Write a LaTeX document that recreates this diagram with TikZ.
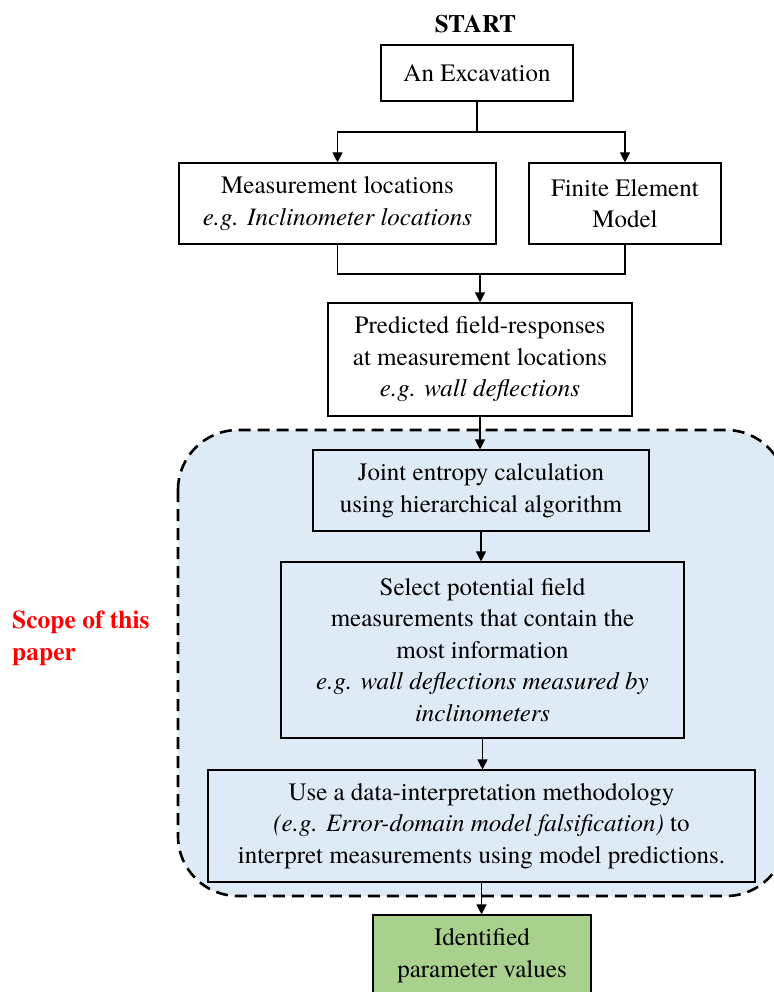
\documentclass[tikz,border=0pt]{standalone}
\usepackage{fontspec}
\setmainfont{texgyretermes}[Extension=.otf, UprightFont=*-regular, BoldFont=*-bold, ItalicFont=*-italic, BoldItalicFont=*-bolditalic]
\usetikzlibrary{arrows.meta}
\definecolor{scopeblue}{RGB}{222,235,247}
\definecolor{resgreen}{RGB}{169,209,142}
\definecolor{scopered}{RGB}{255,0,0}
\begin{document}
\begin{tikzpicture}[x=1pt,y=-1pt,
  box/.style={draw=black, line width=1.1pt, align=center, inner sep=0pt,
              font=\fontsize{25}{31.5}\selectfont},
  inbox/.style={box, fill=scopeblue},
  arr/.style={line width=1.1pt, -{Triangle[width=10pt,length=10pt]}},
  ln/.style={line width=1.1pt},
  scopeframe/.style={line width=2.6pt, dash pattern=on 12pt off 7pt,
              fill=scopeblue, rounded corners=60pt}]
\useasboundingbox (0,0) rectangle (773,992);

% scope region
\draw[scopeframe] (178,430) rectangle (786,896);

% title
\node[font=\fontsize{25}{31.5}\selectfont\bfseries, inner sep=0pt] (start) at (475.5,24) {START};

% boxes
\node[box, minimum width=192pt, minimum height=56pt] (exc) at (477,73) {An Excavation};
\node[box, minimum width=317pt, minimum height=81pt] (meas) at (337.5,203.5)
  {Measurement locations\\\textit{e.g. Inclinometer locations}};
\node[box, minimum width=192pt, minimum height=81pt] (fem) at (625,203.5)
  {Finite Element\\Model};
\node[box, minimum width=304pt, minimum height=113pt] (pred) at (480,359.5)
  {Predicted field-responses\\at measurement locations\\\textit{e.g. wall deflections}};
\node[inbox, minimum width=336pt, minimum height=81pt] (joint) at (481,490.5)
  {Joint entropy calculation\\using hierarchical algorithm};
\node[inbox, minimum width=403pt, minimum height=176pt] (sel) at (482.5,650)
  {Select potential field\\measurements that contain the\\most information\\\textit{e.g. wall deflections measured by}\\\textit{inclinometers}};
\node[inbox, minimum width=547pt, minimum height=112pt] (use) at (481.5,826)
  {Use a data-interpretation methodology\\\textit{(e.g. Error-domain model falsification)} to\\interpret measurements using model predictions.};
\node[box, fill=resgreen, minimum width=218pt, minimum height=81pt] (res) at (482,955.5)
  {Identified\\parameter values};

% scope label
\node[anchor=west, align=left, inner sep=0pt, text=scopered,
      font=\fontsize{25.5}{32}\selectfont\bfseries] (scope) at (12,638)
  {Scope of this\\paper};

% connectors
\coordinate (split) at (exc.south |- 0,132);
\draw[ln] (exc.south) -- (split);
\draw[arr] (split) -| (meas.north);
\draw[arr] (split) -| (fem.north);

\coordinate (merge) at (pred.north |- 0,274);
\draw[ln] (meas.south) |- (merge) -| (fem.south);
\draw[arr] (merge) -- (pred.north);

\draw[arr] (pred.south) -- (pred.south |- joint.north);
\draw[arr] (joint.south) -- (joint.south |- sel.north);
\draw[arr] (sel.south) -- (sel.south |- use.north);
\draw[arr] (use.south) -- (use.south |- res.north);
\end{tikzpicture}
\end{document}
